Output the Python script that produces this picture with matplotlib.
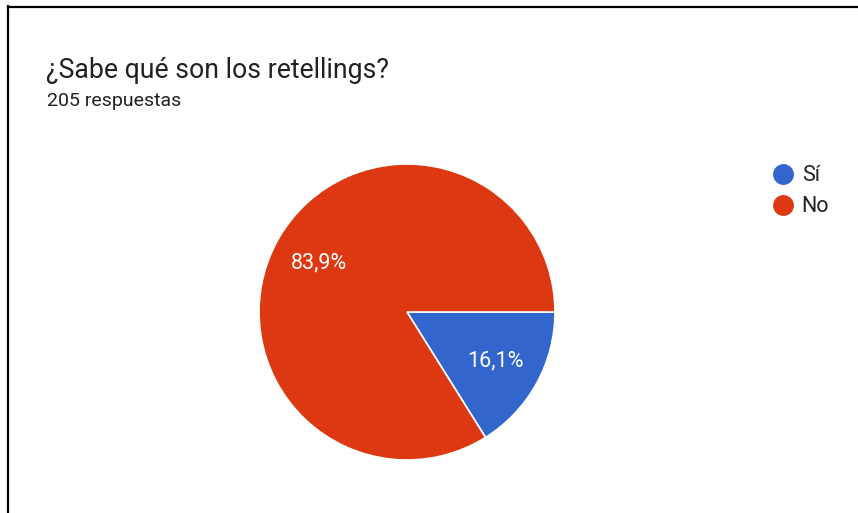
import matplotlib
matplotlib.use("Agg")
import matplotlib.pyplot as plt
from matplotlib.lines import Line2D

title = "¿Sabe qué son los retellings?"
subtitle = "205 respuestas"
categories = ["Sí", "No"]
values = [16.1, 83.9]
colors = ["#3366cc", "#dc3912"]

W, H = 858, 513
fig = plt.figure(figsize=(W / 100, H / 100), dpi=100)
fig.patch.set_facecolor("white")

# border lines (left and top)
fig.add_artist(Line2D([8 / W, 8 / W], [0, 1 - 6 / H], color="black", lw=1.6, transform=fig.transFigure))
fig.add_artist(Line2D([8 / W, 1], [1 - 7 / H, 1 - 7 / H], color="black", lw=1.6, transform=fig.transFigure))

cx, cy, r = 407, 312, 148
ax = fig.add_axes([(cx - r) / W, (H - cy - r) / H, 2 * r / W, 2 * r / H])
wedges, texts, autotexts = ax.pie(
    values, colors=colors, startangle=0, counterclock=False,
    autopct=lambda p: f"{p:.1f}".replace(".", ",") + "%",
    pctdistance=0.68, radius=1,
    wedgeprops=dict(edgecolor="white", linewidth=1.2),
    textprops=dict(color="white", fontsize=15.5, family="Roboto"),
)
ax.set_xlim(-1, 1)
ax.set_ylim(-1, 1)
ax.set_aspect("equal")
ax.axis("off")

fig.text(46 / W, 1 - 71 / H, title, fontsize=19.2, family="Roboto", color="#202124", va="center", ha="left")
fig.text(47 / W, 1 - 101 / H, subtitle, fontsize=14, family="Roboto", color="#202124", va="center", ha="left")

handles = [Line2D([], [], marker="o", linestyle="none", markersize=14, markerfacecolor=c, markeredgecolor=c) for c in colors]
leg = fig.legend(handles, categories, loc="upper left", bbox_to_anchor=(749 / W, 1 - 146 / H),
                 frameon=False, handlelength=1.4, handletextpad=0.15, labelspacing=0.45,
                 prop=dict(family="Roboto", size=15.5))
for t in leg.get_texts():
    t.set_color("#222222")

fig.savefig("out.png", dpi=100, facecolor="white")
